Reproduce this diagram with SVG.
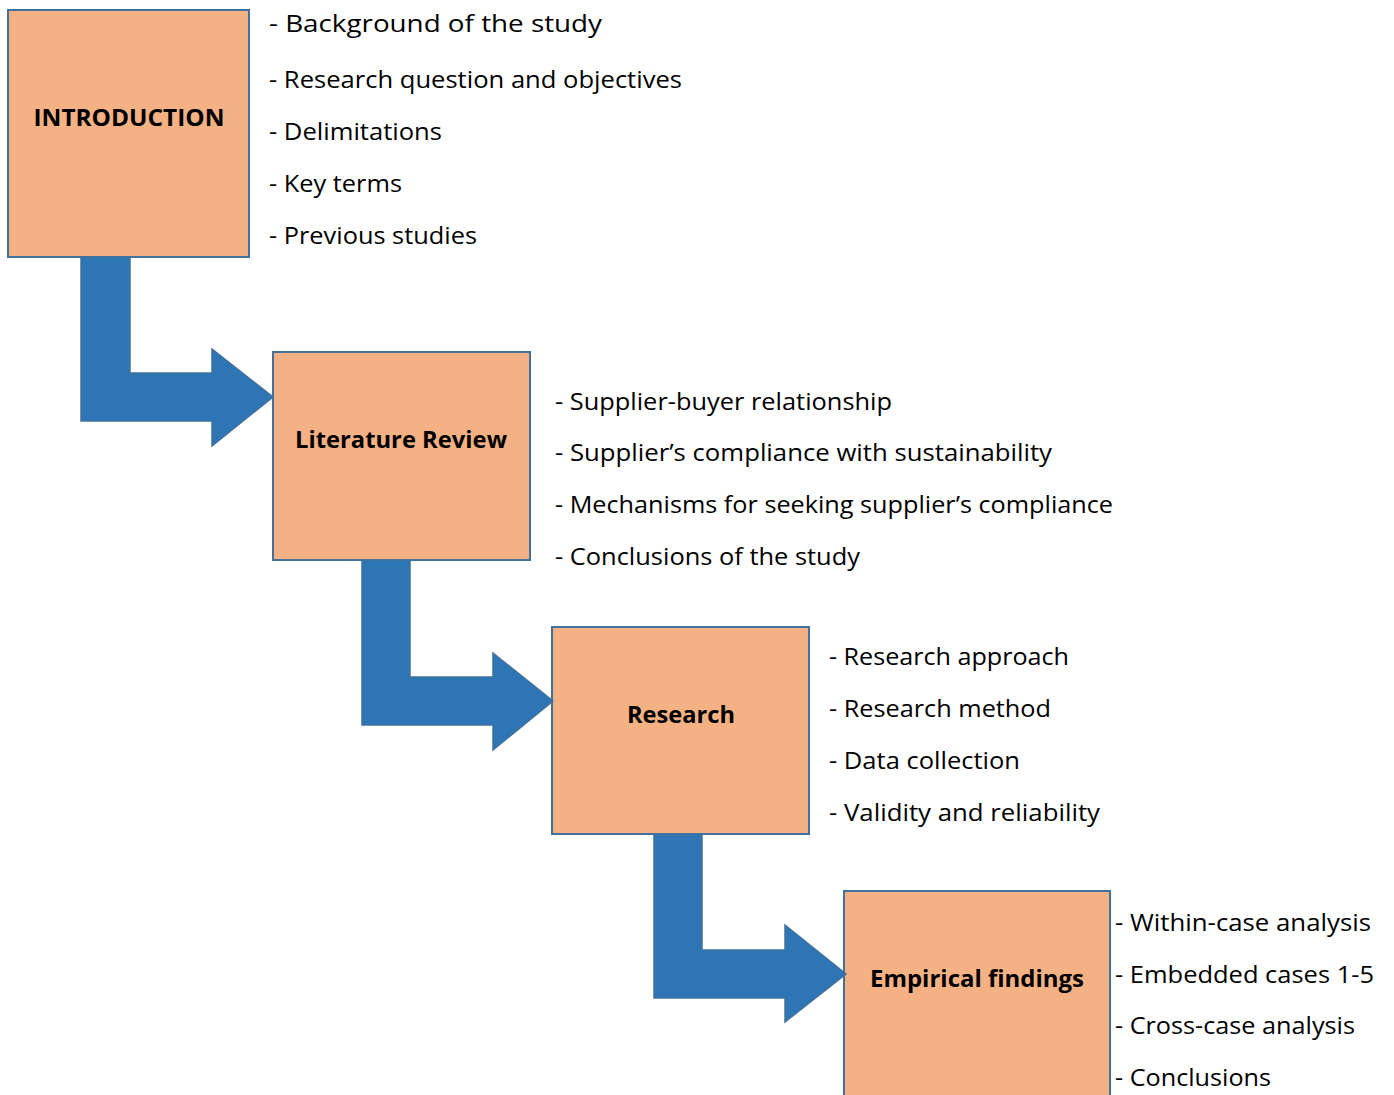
<svg xmlns="http://www.w3.org/2000/svg" width="1394" height="1095" viewBox="0 0 1394 1095">
<style>
.box{fill:#F4B183;stroke:#41719C;stroke-width:2}
.arrow{fill:#2E75B6;stroke:#41719C;stroke-width:1.5}
.lbl{font-family:"Open Sans","Noto Sans",sans-serif;font-weight:bold;font-size:23px;fill:#000;text-anchor:middle}
.item{font-family:"Open Sans","Noto Sans",sans-serif;font-size:23px;fill:#000}
</style>
<rect width="1394" height="1095" fill="#fff"/>
<g id="introduction">
<rect class="box" x="8" y="10" width="241" height="247"/>
<text class="lbl" x="129" y="126" textLength="191" lengthAdjust="spacingAndGlyphs">INTRODUCTION</text>
<text class="item" x="269" y="32" textLength="333" lengthAdjust="spacingAndGlyphs">- Background of the study</text>
<text class="item" x="269" y="88" textLength="413" lengthAdjust="spacingAndGlyphs">- Research question and objectives</text>
<text class="item" x="269" y="140" textLength="173" lengthAdjust="spacingAndGlyphs">- Delimitations</text>
<text class="item" x="269" y="192" textLength="133" lengthAdjust="spacingAndGlyphs">- Key terms</text>
<text class="item" x="269" y="244" textLength="208" lengthAdjust="spacingAndGlyphs">- Previous studies</text>
</g>
<g id="literature-review">
<rect class="box" x="273" y="352" width="257" height="208"/>
<text class="lbl" x="401" y="448" textLength="212" lengthAdjust="spacingAndGlyphs">Literature Review</text>
<text class="item" x="555" y="410" textLength="337" lengthAdjust="spacingAndGlyphs">- Supplier-buyer relationship</text>
<text class="item" x="555" y="461" textLength="497" lengthAdjust="spacingAndGlyphs">- Supplier’s compliance with sustainability</text>
<text class="item" x="555" y="513" textLength="558" lengthAdjust="spacingAndGlyphs">- Mechanisms for seeking supplier’s compliance</text>
<text class="item" x="555" y="565" textLength="305" lengthAdjust="spacingAndGlyphs">- Conclusions of the study</text>
</g>
<g id="research">
<rect class="box" x="552" y="627" width="257" height="207"/>
<text class="lbl" x="681" y="723" textLength="108" lengthAdjust="spacingAndGlyphs">Research</text>
<text class="item" x="829" y="665" textLength="240" lengthAdjust="spacingAndGlyphs">- Research approach</text>
<text class="item" x="829" y="717" textLength="222" lengthAdjust="spacingAndGlyphs">- Research method</text>
<text class="item" x="829" y="769" textLength="191" lengthAdjust="spacingAndGlyphs">- Data collection</text>
<text class="item" x="829" y="821" textLength="271" lengthAdjust="spacingAndGlyphs">- Validity and reliability</text>
</g>
<g id="empirical-findings">
<rect class="box" x="844" y="891" width="266" height="214"/>
<text class="lbl" x="977" y="987" textLength="214" lengthAdjust="spacingAndGlyphs">Empirical findings</text>
<text class="item" x="1115" y="931" textLength="256" lengthAdjust="spacingAndGlyphs">- Within-case analysis</text>
<text class="item" x="1115" y="983" textLength="259" lengthAdjust="spacingAndGlyphs">- Embedded cases 1-5</text>
<text class="item" x="1115" y="1034" textLength="240" lengthAdjust="spacingAndGlyphs">- Cross-case analysis</text>
<text class="item" x="1115" y="1086" textLength="156" lengthAdjust="spacingAndGlyphs">- Conclusions</text>
</g>
<g id="connectors">
<path class="arrow" d="M81,257 L130,257 L130,373 L212,373 L212,349 L273,397 L212,446 L212,421 L81,421 Z"/>
<path class="arrow" d="M362,560 L410,560 L410,677 L493,677 L493,653 L553,701 L493,750 L493,725 L362,725 Z"/>
<path class="arrow" d="M654,834 L702,834 L702,950 L785,950 L785,925 L846,974 L785,1022 L785,998 L654,998 Z"/>
</g>
</svg>
